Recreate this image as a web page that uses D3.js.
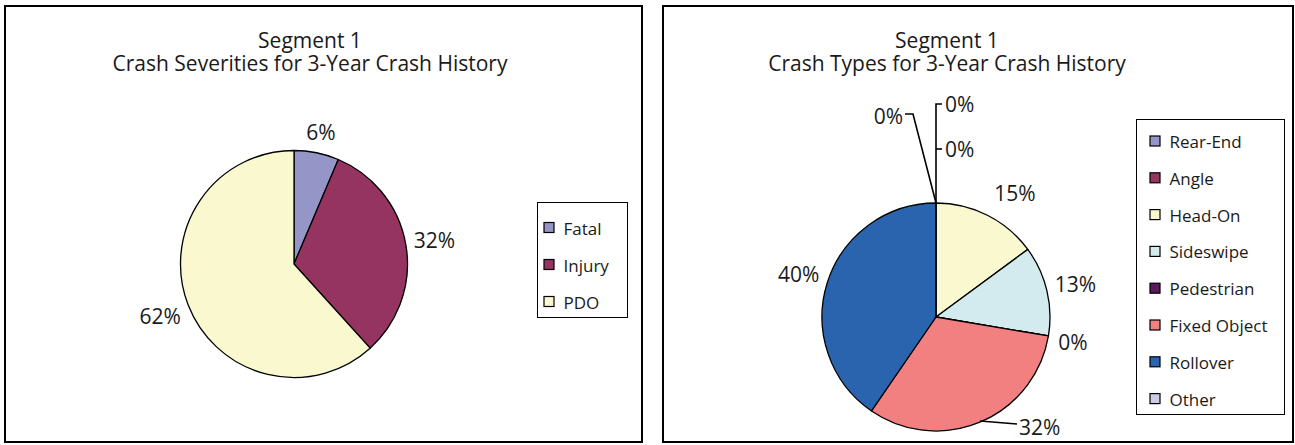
<!DOCTYPE html>
<html>
<head>
<meta charset="utf-8">
<script src="https://cdn.jsdelivr.net/npm/d3@7/dist/d3.min.js"></script>
<style>
  html, body { margin: 0; padding: 0; background: #fff; }
  svg { display: block; }
  text { font-family: "Open Sans", "Noto Sans", sans-serif; fill: #1a1a1a; }
</style>
</head>
<body>
<svg id="chart" width="1295" height="445"></svg>
<script>
// ---- Data (crash counts, 3-year history) ----
const severityCategories = ["Fatal", "Injury", "PDO"];
const severityCounts = [3, 15, 29];
const severityColors = ["#9595c8", "#953461", "#faf8cf"];

const typeCategories = ["Rear-End", "Angle", "Head-On", "Sideswipe", "Pedestrian", "Fixed Object", "Rollover", "Other"];
const typeCounts = [0, 0, 7, 6, 0, 15, 19, 0];
const typeColors = ["#9595c8", "#953461", "#faf8cf", "#d3ebef", "#5b1a5b", "#f28080", "#2a64ae", "#cdcde8"];

const titleLine1 = "Segment 1";
const severityTitle = "Crash Severities for 3-Year Crash History";
const typeTitle = "Crash Types for 3-Year Crash History";

// ---- Drawing ----
const svg = d3.select("#chart");
const fmt = d3.format(".0%");

function drawPanel(opts) {
  const g = svg.append("g");
  g.append("rect")
    .attr("x", opts.box[0]).attr("y", opts.box[1])
    .attr("width", opts.box[2]).attr("height", opts.box[3])
    .attr("fill", "#fff").attr("stroke", "#000").attr("stroke-width", 2);

  const t = g.append("text").attr("text-anchor", "middle").attr("font-size", 21);
  t.append("tspan").attr("x", opts.titleX).attr("y", 48).text(titleLine1);
  t.append("tspan").attr("x", opts.titleX).attr("y", 71).text(opts.title);

  const total = d3.sum(opts.values);
  const pie = d3.pie().sort(null).value(d => d)(opts.values);
  const arc = d3.arc().innerRadius(0).outerRadius(opts.r);
  const pg = g.append("g").attr("transform", `translate(${opts.cx},${opts.cy})`);

  pg.selectAll("path.slice").data(pie).join("path")
    .attr("class", "slice")
    .attr("d", arc)
    .attr("fill", (d, i) => opts.colors[i])
    .attr("stroke", "#000").attr("stroke-width", 1.3)
    .attr("stroke-linejoin", "round");

  // labels
  pie.forEach((d, i) => {
    const txt = fmt(d.value / total);
    const ov = opts.overrides[i];
    const mid = (d.startAngle + d.endAngle) / 2;
    let lx, ly;
    if (ov && ov.pos) {
      lx = ov.pos[0] - opts.cx; ly = ov.pos[1] - opts.cy;
    } else {
      const hw = txt.length * 6.2, hh = 10;
      const dist = opts.r + 9 + hw * Math.abs(Math.sin(mid)) + hh * Math.abs(Math.cos(mid));
      lx = dist * Math.sin(mid); ly = -dist * Math.cos(mid);
    }
    if (ov && ov.leader) {
      pg.append("path")
        .attr("d", d3.line()(ov.leader.map(p => [p[0] - opts.cx, p[1] - opts.cy])))
        .attr("fill", "none").attr("stroke", "#000").attr("stroke-width", 1.6);
    }
    pg.append("text")
      .attr("x", lx).attr("y", ly)
      .attr("text-anchor", ov && ov.anchor ? ov.anchor : "middle")
      .attr("dominant-baseline", "central")
      .attr("font-size", 21)
      .text(txt);
  });

  // legend
  const L = opts.legend;
  g.append("rect").attr("x", L.x).attr("y", L.y).attr("width", L.w).attr("height", L.h)
    .attr("fill", "#fff").attr("stroke", "#000").attr("stroke-width", 1);
  const items = g.selectAll("g.item").data(opts.categories).join("g")
    .attr("class", "item")
    .attr("transform", (d, i) => `translate(${L.x + L.sw},${L.first + i * L.step})`);
  items.append("rect").attr("x", 0.5).attr("y", -5.5).attr("width", 10).attr("height", 10)
    .attr("fill", (d, i) => opts.colors[i]).attr("stroke", "#000").attr("stroke-width", 1.2);
  items.append("text").attr("x", L.tx).attr("y", 0).attr("dominant-baseline", "central")
    .attr("font-size", 17).text(d => d);
}

drawPanel({
  box: [5, 6, 637, 436],
  titleX: 310,
  title: severityTitle,
  categories: severityCategories,
  values: severityCounts,
  colors: severityColors,
  cx: 294, cy: 264, r: 113.5,
  overrides: {},
  legend: { x: 537.5, y: 202.5, w: 90, h: 115, first: 228, step: 37, sw: 6, tx: 20 }
});

drawPanel({
  box: [663, 6, 630, 436],
  titleX: 947,
  title: typeTitle,
  categories: typeCategories,
  values: typeCounts,
  colors: typeColors,
  cx: 936, cy: 317, r: 114,
  overrides: {
    0: { pos: [945, 104], anchor: "start", leader: [[936, 203], [936, 104], [942, 104]] },
    1: { pos: [945, 149], anchor: "start", leader: [[936, 149], [942, 149]] },
    2: { pos: [1015, 193] },
    4: { pos: [1073, 342] },
    5: { pos: [1019, 427], anchor: "start", leader: [[980, 421], [1017, 424]] },
    7: { pos: [903, 116], anchor: "end", leader: [[936, 203], [913, 114], [905, 114]] }
  },
  legend: { x: 1136.5, y: 119.5, w: 148, h: 295, first: 141.5, step: 36.8, sw: 13, tx: 20 }
});
</script>
</body>
</html>
